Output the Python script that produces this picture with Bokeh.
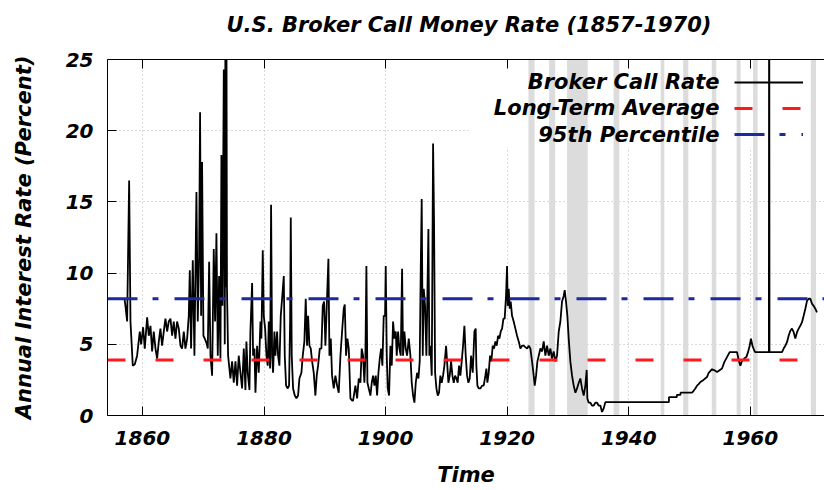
from bokeh.plotting import figure
from bokeh.models import (Range1d, BoxAnnotation, Label, Legend, LegendItem, FixedTicker, Span, Title,
                          LinearAxis)
from bokeh.embed import file_html
from bokeh.resources import INLINE

# ---------------- data ----------------
years = [
    1857.04, 1857.2, 1857.48, 1857.81, 1858.03, 1858.41, 1858.74, 1859.12, 1859.56, 1859.78,
    1860.11, 1860.38, 1860.77, 1861.04, 1861.32, 1861.59, 1861.86, 1862.14, 1862.41, 1862.69,
    1862.96, 1863.23, 1863.51, 1863.78, 1864.06, 1864.33, 1864.61, 1864.88, 1865.15, 1865.43,
    1865.70, 1865.98, 1866.25, 1866.52, 1866.80, 1867.07, 1867.35, 1867.62, 1867.79, 1868.00,
    1868.28, 1868.55, 1868.88, 1869.10, 1869.32, 1869.48, 1869.65, 1869.81, 1870.03, 1870.25,
    1870.53, 1870.75, 1870.97, 1871.19, 1871.46, 1871.73, 1871.95, 1872.17, 1872.39, 1872.61,
    1872.83, 1872.99, 1873.16, 1873.38, 1873.54, 1873.65, 1873.72, 1873.80, 1873.90, 1874.09,
    1874.47, 1874.75, 1875.02, 1875.30, 1875.57, 1875.84, 1876.12, 1876.39, 1876.67, 1876.94,
    1877.10, 1877.32, 1877.60, 1877.76, 1878.04, 1878.20, 1878.42, 1878.59, 1878.86, 1879.13,
    1879.41, 1879.57, 1879.79, 1879.96, 1880.18, 1880.40, 1880.61, 1880.78, 1881.00, 1881.16,
    1881.33, 1881.49, 1881.71, 1881.87, 1882.15, 1882.31, 1882.53, 1882.75, 1882.97, 1883.25,
    1883.41, 1883.63, 1883.90, 1884.12, 1884.29, 1884.40, 1884.56, 1884.78, 1885.06, 1885.33,
    1885.60, 1885.82, 1886.15, 1886.37, 1886.64, 1886.86, 1887.08, 1887.25, 1887.47, 1887.69,
    1887.91, 1888.18, 1888.45, 1888.67, 1888.89, 1889.17, 1889.44, 1889.66, 1889.88, 1890.10,
    1890.32, 1890.59, 1890.76, 1890.98, 1891.19, 1891.47, 1891.74, 1892.02, 1892.29, 1892.57,
    1892.84, 1893.11, 1893.28, 1893.50, 1893.72, 1893.94, 1894.21, 1894.48, 1894.65, 1895.03,
    1895.31, 1895.58, 1895.86, 1896.07, 1896.29, 1896.51, 1896.68, 1896.84, 1897.01, 1897.23,
    1897.50, 1897.72, 1897.94, 1898.16, 1898.38, 1898.60, 1898.82, 1899.04, 1899.26, 1899.47,
    1899.69, 1899.91, 1900.02, 1900.19, 1900.35, 1900.57, 1900.79, 1901.01, 1901.23, 1901.45,
    1901.67, 1901.83, 1902.05, 1902.27, 1902.49, 1902.71, 1902.87, 1903.09, 1903.31, 1903.53,
    1903.81, 1904.08, 1904.30, 1904.52, 1904.74, 1904.96, 1905.18, 1905.40, 1905.61, 1905.78,
    1905.94, 1906.11, 1906.27, 1906.49, 1906.71, 1906.82, 1907.04, 1907.20, 1907.37, 1907.59,
    1907.81, 1907.97, 1908.14, 1908.36, 1908.58, 1908.79, 1909.01, 1909.23, 1909.45, 1909.67,
    1909.95, 1910.11, 1910.33, 1910.55, 1910.77, 1910.99, 1911.21, 1911.43, 1911.65, 1911.86,
    1912.08, 1912.30, 1912.52, 1912.74, 1912.96, 1913.18, 1913.40, 1913.62, 1913.84, 1914.06,
    1914.33, 1914.61, 1914.82, 1914.93, 1915.10, 1915.32, 1915.59, 1915.87, 1916.14, 1916.41,
    1916.58, 1916.74, 1916.96, 1917.18, 1917.40, 1917.62, 1917.84, 1918.06, 1918.28, 1918.50,
    1918.72, 1918.94, 1919.16, 1919.38, 1919.59, 1919.81, 1919.98, 1920.09, 1920.25, 1920.42,
    1920.58, 1920.80, 1921.07, 1921.35, 1921.62, 1921.90, 1922.17, 1922.45, 1922.72, 1922.99,
    1923.27, 1923.54, 1923.82, 1924.09, 1924.36, 1924.53, 1924.75, 1924.97, 1925.19, 1925.46,
    1925.74, 1926.01, 1926.28, 1926.56, 1926.83, 1927.11, 1927.38, 1927.65, 1927.93, 1928.20,
    1928.48, 1928.75, 1929.02, 1929.30, 1929.46, 1929.68, 1929.90, 1930.12, 1930.39, 1930.67,
    1930.94, 1931.22, 1931.49, 1931.77, 1932.04, 1932.31, 1932.59, 1932.86, 1933.08, 1933.19,
    1933.41, 1933.68, 1933.96, 1934.23, 1934.51, 1934.78, 1935.05, 1935.33, 1935.60, 1935.88,
    1936.15, 1946.60, 1946.62, 1947.90, 1947.92, 1948.50, 1948.52, 1950.40, 1950.70, 1950.95,
    1951.23, 1951.50, 1951.78, 1952.30, 1952.87, 1953.15, 1953.70, 1954.20, 1954.52, 1955.00,
    1955.34, 1955.72, 1956.16, 1956.60, 1957.81, 1958.08, 1958.36, 1958.63, 1959.00, 1959.34,
    1959.62, 1959.89, 1960.10, 1960.35, 1960.66, 1960.82, 1963.05, 1963.10, 1963.15, 1965.21,
    1965.48, 1965.76, 1966.03, 1966.30, 1966.58, 1966.85, 1967.13, 1967.40, 1967.68, 1967.95,
    1968.22, 1968.50, 1968.77, 1969.05, 1969.32, 1969.59, 1969.87, 1970.14, 1970.42, 1970.69,
    1970.96,
]
rates = [
    8.2, 7.7, 6.6, 16.5, 6.6, 3.5, 3.6, 4.2, 5.9, 5.0,
    6.2, 4.7, 6.9, 5.6, 6.3, 4.5, 5.9, 4.7, 4.0, 5.2,
    6.1, 4.9, 5.9, 6.8, 5.9, 6.6, 6.8, 5.6, 6.6, 5.4,
    6.6, 6.1, 4.9, 4.7, 5.9, 4.7, 5.4, 7.0, 10.2, 4.7,
    10.9, 4.2, 15.7, 6.6, 11.2, 21.3, 7.0, 17.8, 5.6, 5.4,
    5.1, 4.7, 10.8, 4.2, 2.8, 11.7, 6.6, 12.8, 4.2, 9.8,
    4.0, 18.3, 7.7, 24.3, 5.0, 28.0, 9.0, 32.0, 9.0, 4.2,
    2.6, 3.8, 2.3, 3.8, 2.1, 4.2, 3.0, 1.9, 4.7, 1.8,
    5.2, 3.0, 1.8, 5.9, 9.3, 4.2, 4.7, 1.6, 4.9, 3.0,
    6.6, 5.4, 11.6, 7.0, 6.1, 4.2, 3.5, 6.6, 3.3, 14.8,
    4.2, 3.0, 5.9, 4.2, 5.9, 4.2, 3.5, 7.0, 8.2, 9.8,
    4.2, 2.1, 1.9, 2.1, 6.6, 13.9, 4.2, 1.9, 1.4, 1.2,
    1.4, 2.6, 3.0, 4.2, 5.2, 8.2, 4.9, 7.0, 4.9, 4.7,
    3.8, 3.0, 1.4, 2.8, 3.5, 4.7, 4.7, 7.7, 8.0, 4.9,
    7.7, 11.0, 4.2, 5.4, 2.8, 1.9, 2.8, 2.1, 1.6, 4.2,
    5.9, 7.5, 7.8, 4.2, 5.4, 4.7, 1.2, 1.05, 1.05, 2.1,
    1.2, 2.6, 2.3, 4.7, 4.2, 2.3, 4.2, 10.5, 2.3, 1.9,
    1.4, 2.3, 2.8, 2.1, 2.8, 1.4, 3.0, 4.0, 4.7, 3.5,
    7.0, 7.0, 10.5, 4.2, 1.9, 1.4, 4.9, 3.5, 6.6, 5.4,
    5.9, 4.2, 5.9, 4.7, 4.2, 10.3, 4.2, 5.9, 4.7, 4.2,
    5.4, 4.2, 2.3, 1.4, 0.9, 2.3, 3.0, 2.6, 3.8, 10.3,
    15.2, 4.2, 8.9, 7.7, 4.2, 7.0, 13.1, 4.2, 4.9, 2.8,
    19.1, 13.6, 3.0, 1.9, 1.4, 1.6, 2.8, 2.3, 2.8, 3.5,
    4.9, 3.8, 2.3, 2.8, 3.8, 2.8, 2.3, 2.8, 2.6, 2.3,
    3.5, 2.8, 3.8, 4.9, 6.3, 4.2, 2.8, 2.3, 2.6, 4.2,
    3.0, 5.9, 6.1, 3.5, 2.1, 1.9, 1.9, 2.1, 2.1, 2.8,
    3.3, 2.3, 3.0, 4.2, 3.8, 4.9, 4.7, 5.2, 4.9, 5.6,
    5.4, 5.9, 6.1, 6.8, 6.8, 8.4, 10.5, 7.7, 8.9, 7.5,
    8.0, 7.0, 6.6, 6.1, 5.6, 5.2, 4.7, 4.9, 4.9, 4.8,
    4.7, 4.9, 4.7, 3.8, 2.8, 2.1, 2.8, 3.8, 4.2, 4.7,
    4.5, 5.2, 4.2, 4.9, 4.2, 4.7, 4.0, 4.5, 3.8, 4.2,
    5.9, 6.6, 8.0, 8.4, 8.8, 8.0, 7.0, 5.4, 3.8, 2.8,
    2.1, 1.6, 1.9, 2.3, 2.6, 1.9, 1.4, 2.1, 3.2, 1.2,
    0.9, 0.9, 0.7, 0.7, 0.9, 0.9, 0.7, 0.7, 0.25, 0.5,
    0.94, 0.94, 1.29, 1.29, 1.45, 1.45, 1.6, 1.6, 1.75, 1.9,
    2.1, 2.2, 2.35, 2.5, 2.7, 3.0, 3.25, 3.15, 3.05, 3.2,
    3.3, 3.75, 4.1, 4.45, 4.45, 3.9, 3.5, 3.85, 4.0, 4.1,
    4.45, 4.9, 5.4, 4.9, 4.55, 4.45, 4.45, 40.0, 4.45, 4.45,
    4.7, 4.9, 5.15, 5.6, 5.95, 6.1, 5.85, 5.4, 5.85, 6.1,
    6.3, 6.55, 7.0, 7.5, 8.05, 8.2, 8.2, 7.85, 7.7, 7.5,
    7.25,
]
long_term_average = 3.9
percentile_95 = 8.2

recession_start = [1923.5, 1926.9, 1929.85, 1937.5, 1945.25, 1948.95, 1953.65, 1957.75, 1960.45, 1969.95]
recession_end = [1924.5, 1927.9, 1933.25, 1938.45, 1945.85, 1949.8, 1954.4, 1958.4, 1961.2, 1970.8]

x_ticks = [1860, 1880, 1900, 1920, 1940, 1960]
y_ticks = [0, 5, 10, 15, 20, 25]
x_lo, x_hi = 1854.25, 1972.2
y_lo, y_hi = 0, 25

series_names = ["Broker Call Rate", "Long-Term Average", "95th Percentile"]
chart_title = "U.S. Broker Call Money Rate (1857-1970)"

# ---------------- figure ----------------
FONT = "DejaVu Sans"
p = figure(width=824, height=490, x_range=Range1d(x_lo, x_hi), y_range=Range1d(y_lo, y_hi),
           output_backend="svg", toolbar_location=None, title_location=None,
           min_border_left=107, min_border_right=0, min_border_top=59, min_border_bottom=75)
p.background_fill_color = "white"
p.border_fill_color = "white"
p.outline_line_color = None

bottom_axis = p.below[0]
left_axis = p.left[0]

# axes
for ax in [bottom_axis, left_axis]:
    ax.major_tick_in = 9
    ax.major_tick_out = 0
    ax.minor_tick_line_color = None
    ax.axis_line_color = "black"
    ax.major_tick_line_color = "black"
    ax.major_label_text_font = FONT
    ax.major_label_text_font_style = "bold italic"
    ax.major_label_text_font_size = "20px"
    ax.major_label_text_color = "black"
    ax.axis_label_text_font = FONT
    ax.axis_label_text_font_style = "bold italic"
    ax.axis_label_text_font_size = "21px"
    ax.axis_label_text_color = "black"

bottom_axis.ticker = FixedTicker(ticks=x_ticks)
left_axis.ticker = FixedTicker(ticks=y_ticks)
bottom_axis.axis_label = "Time"
left_axis.axis_label = "Annual Interest Rate (Percent)"
bottom_axis.major_label_standoff = 15
bottom_axis.axis_label_standoff = 15
left_axis.major_label_standoff = 14
left_axis.axis_label_standoff = 27

# mirrored x ticks along the top edge (labels hidden)
top_axis = LinearAxis(ticker=FixedTicker(ticks=x_ticks), major_tick_in=9, major_tick_out=0,
                      minor_tick_line_color=None, major_label_text_font_size="1px",
                      major_label_text_alpha=0, major_label_standoff=0,
                      axis_line_color="black", major_tick_line_color="black")
p.add_layout(top_axis, "above")

# title: a thin spacer next to the frame, then the title text above it
p.add_layout(Title(text=" ", text_font_size="1px", standoff=16), "above")
p.add_layout(Title(text=chart_title, text_font=FONT, text_font_style="bold italic",
                   text_font_size="21px", text_color="black", align="left", offset=119,
                   vertical_align="bottom", standoff=8), "above")

# grid
p.xgrid.ticker = FixedTicker(ticks=x_ticks)
p.ygrid.ticker = FixedTicker(ticks=y_ticks)
for g in [p.xgrid[0], p.ygrid[0]]:
    g.grid_line_color = "#b4b4b4"
    g.grid_line_dash = "1 3"
    g.grid_line_width = 1

# key area hides the grid
p.add_layout(BoxAnnotation(left=361, bottom=268, left_units="screen", bottom_units="screen",
                           fill_color="white", fill_alpha=1, line_color=None, level="underlay"))

# recession bands
for s, e in zip(recession_start, recession_end):
    p.add_layout(BoxAnnotation(left=s, right=e, fill_color="#dcdcdc", fill_alpha=1,
                               line_color=None, level="underlay"))

r_rate = p.line(years, rates, line_color="black", line_width=1.8)
r_avg = p.line([x_lo, x_hi], [long_term_average, long_term_average], line_color="#ff1a1a",
               line_width=3, line_dash="18 30")
r_pct = p.line([x_lo, x_hi], [percentile_95, percentile_95], line_color="#1c2a9c",
               line_width=3, line_dash="30 15 6 16")

# top border of the plot frame
p.add_layout(Span(location=y_hi, dimension="width", line_color="black", line_width=1))

# key: texts (right aligned) + samples to their right
row_y = [333.3, 307.3, 281.0]
for name, yy in zip(series_names, row_y):
    p.add_layout(Label(x=612, y=yy, x_units="screen", y_units="screen", text=name,
                       text_align="right", text_baseline="middle", text_font=FONT,
                       text_font_style="bold italic", text_font_size="21px", text_color="black"))

legend = Legend(items=[LegendItem(label=" ", renderers=[r]) for r in [r_rate, r_avg, r_pct]],
                location=(627, 268), glyph_width=69, glyph_height=26, label_width=0,
                label_standoff=0, padding=0, spacing=0, margin=0, border_line_color=None,
                background_fill_alpha=0, label_text_font_size="1px")
p.add_layout(legend, "center")

open("out.html", "w").write(file_html(p, INLINE))
